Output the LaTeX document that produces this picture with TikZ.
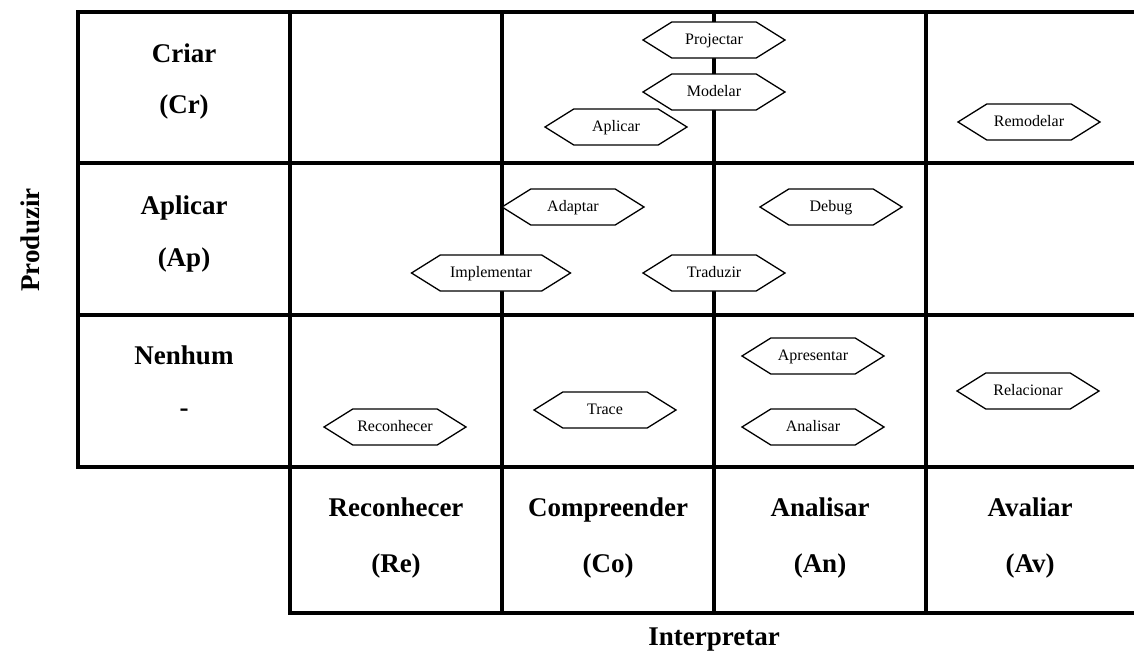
\documentclass[tikz,border=0pt]{standalone}
\usepackage{fontspec}
\setmainfont{Liberation Serif}
\usetikzlibrary{shapes.symbols}
\begin{document}
\begin{tikzpicture}[x=1pt,y=-1pt,
  gridline/.style={line width=4pt, line join=miter},
  lab/.style={font=\fontsize{27}{30}\bfseries\selectfont, anchor=base, inner sep=0pt},
  hex/.style={signal, signal to=east and west, signal pointer angle=64,
    draw=black, fill=white, line width=1.3pt, minimum width=142pt,
    minimum height=36pt, inner sep=2pt, text height=10pt, text depth=2pt,
    font=\fontsize{16}{18}\selectfont}]
\useasboundingbox (0,0) rectangle (1134,653);

% grid
\draw[gridline] (1140,12) -- (78,12) -- (78,467) -- (1140,467);
\draw[gridline] (78,163) -- (1140,163);
\draw[gridline] (78,315) -- (1140,315);
\draw[gridline] (290,467) -- (290,613) -- (1140,613);
\foreach \x in {290,502,714,926} \draw[gridline] (\x,12) -- (\x,613);

% row labels
\node[lab] (cr)  at (184,62)  {Criar};
\node[lab] (crs) at (184,113) {(Cr)};
\node[lab] (ap)  at (184,214) {Aplicar};
\node[lab] (aps) at (184,266) {(Ap)};
\node[lab] (ne)  at (184,364) {Nenhum};
\node[lab] (nes) at (184,416) {-};

% column labels
\node[lab] (re)  at (396,516) {Reconhecer};
\node[lab] (res) at (396,572) {(Re)};
\node[lab] (co)  at (608,516) {Compreender};
\node[lab] (cos) at (608,572) {(Co)};
\node[lab] (an)  at (820,516) {Analisar};
\node[lab] (ans) at (820,572) {(An)};
\node[lab] (av)  at (1030,516) {Avaliar};
\node[lab] (avs) at (1030,572) {(Av)};

% axis titles
\node[lab] (interp) at (714,645) {Interpretar};
\node[lab, anchor=center, rotate=90] (prod) at (30,240) {Produzir};

% activities
\node[hex] (hProj) at (714,40)  {Projectar};
\node[hex] (hMod)  at (714,92)  {Modelar};
\node[hex] (hApl)  at (616,127) {Aplicar};
\node[hex] (hRem)  at (1029,122) {Remodelar};
\node[hex] (hAda)  at (573,207) {Adaptar};
\node[hex] (hDeb)  at (831,207) {Debug};
\node[hex, minimum width=159pt] (hImp) at (491,273) {Implementar};
\node[hex] (hTra)  at (714,273) {Traduzir};
\node[hex] (hApr)  at (813,356) {Apresentar};
\node[hex] (hAna)  at (813,427) {Analisar};
\node[hex] (hRel)  at (1028,391) {Relacionar};
\node[hex] (hRec)  at (395,427) {Reconhecer};
\node[hex] (hTrc)  at (605,410) {Trace};
\end{tikzpicture}
\end{document}
